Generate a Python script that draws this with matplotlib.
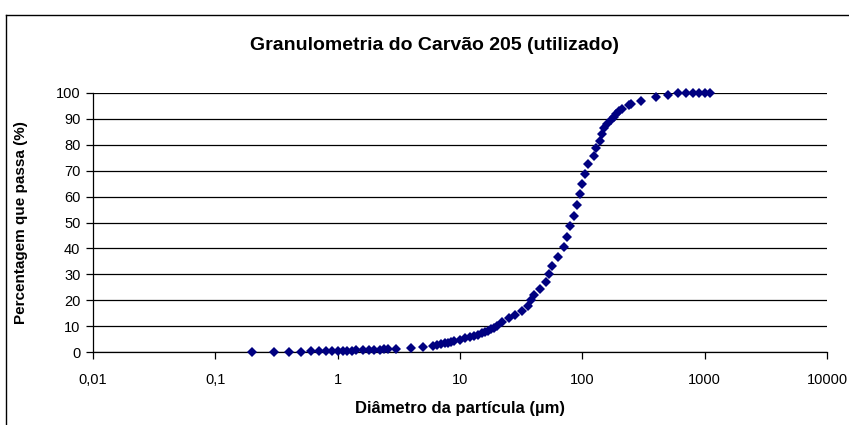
import numpy as np
import matplotlib
matplotlib.use("Agg")
import matplotlib.pyplot as plt
from matplotlib.lines import Line2D

plt.rcParams['font.family'] = ['Liberation Sans', 'DejaVu Sans']

# particle diameter (um) and cumulative % passing
diametro = [0.2, 0.3, 0.4, 0.5, 0.6, 0.7, 0.8, 0.9, 1.0, 1.1, 1.2, 1.3, 1.4,
            1.6, 1.8, 2.0, 2.2, 2.4, 2.6, 3.0, 4.0, 5.0, 6.0, 6.5, 7.0, 7.5,
            8.0, 8.5, 9.0, 10, 11, 12, 13, 14, 15, 16, 17, 18, 19, 20, 22,
            25, 28, 32, 36, 38, 40, 45, 50, 53, 56, 63, 71, 75, 80, 85, 90,
            95, 100, 106, 112, 125, 130, 140, 145, 150, 160, 170, 180, 190,
            200, 212, 242, 250, 300, 400, 500, 600, 700, 800, 900, 1000, 1100]
passa = [0.0, 0.05, 0.1, 0.15, 0.2, 0.25, 0.3, 0.35, 0.4, 0.45, 0.5, 0.55, 0.6,
         0.7, 0.8, 0.85, 0.95, 1.0, 1.1, 1.25, 1.4, 1.8, 2.3, 2.6, 3.0, 3.3,
         3.6, 3.9, 4.3, 4.8, 5.3, 5.7, 6.2, 6.7, 7.2, 7.7, 8.2, 8.8, 9.4, 10.2, 11.5,
         13.0, 14.3, 15.8, 17.8, 20.1, 22.0, 24.3, 27.1, 30.0, 33.3, 36.8, 40.7, 44.5,
         48.6, 52.5, 56.8, 61.0, 64.9, 68.6, 72.5, 75.7, 78.9, 81.5, 84.0, 86.4,
         88.0, 89.5, 90.8, 92.0, 93.0, 94.0, 95.2, 95.8, 96.8, 98.3, 99.3, 99.9,
         100, 100, 100, 100, 100]

xticks = [0.01, 0.1, 1, 10, 100, 1000, 10000]
xlabels = ['0,01', '0,1', '1', '10', '100', '1000', '10000']
yticks = list(range(0, 101, 10))

W, H = 849, 425
fig = plt.figure(figsize=(W / 100, H / 100), dpi=100)
ax = fig.add_axes([93 / W, 1 - 352 / H, (827 - 93) / W, (352 - 93) / H])

ax.plot(diametro, passa, linestyle='none', marker='D', markersize=5.3,
        color='#000080', markeredgewidth=0, clip_on=False, zorder=3)

ax.set_xscale('log')
ax.set_xlim(0.01, 10000)
ax.set_ylim(0, 100)
ax.set_xticks(xticks)
ax.set_xticklabels(xlabels)
ax.minorticks_off()
ax.set_yticks(yticks)

ax.grid(axis='y', color='black', linewidth=0.9)
ax.set_axisbelow(True)
for s in ['top', 'right']:
    ax.spines[s].set_visible(False)
for s in ['left', 'bottom']:
    ax.spines[s].set_color('black')
    ax.spines[s].set_linewidth(0.9)

ax.tick_params(axis='both', direction='out', length=5, width=0.9,
               labelsize=10.5, colors='black')
ax.tick_params(axis='x', pad=10)
ax.tick_params(axis='y', pad=4)

# title is centred on the whole chart area, not on the plot area
fig.text(435 / W, 1 - 45 / H, 'Granulometria do Carvão 205 (utilizado)',
         fontsize=14, fontweight='bold', ha='center', va='center')
ax.set_xlabel('Diâmetro da partícula (µm)', fontsize=12, fontweight='bold',
              labelpad=10)
ax.set_ylabel('Percentagem que passa (%)', fontsize=11, fontweight='bold',
              labelpad=20)

# chart area border (left and top edges only visible in the crop)
fig.add_artist(Line2D([6 / W, 6 / W], [0, 1 - 15 / H], color='black', lw=1))
fig.add_artist(Line2D([6 / W, 1], [1 - 15 / H, 1 - 15 / H], color='black', lw=1))

fig.savefig('out.png', dpi=100)
